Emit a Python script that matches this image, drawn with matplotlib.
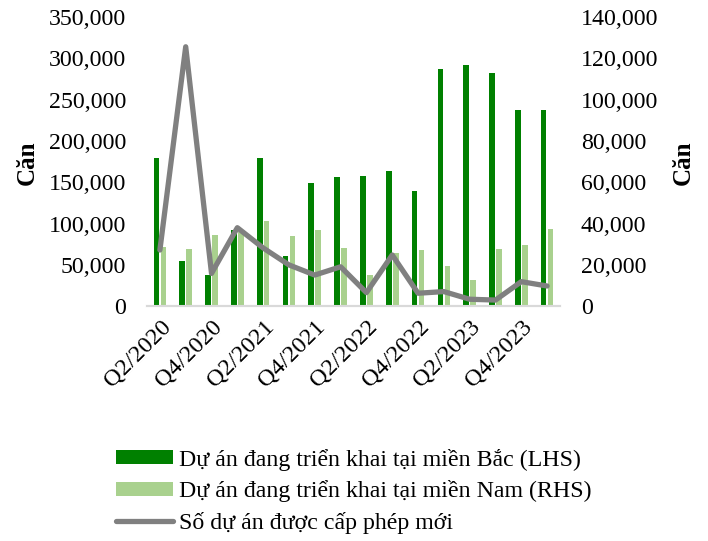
import matplotlib.pyplot as plt
import numpy as np

plt.rcParams["font.family"] = ["Liberation Serif", "DejaVu Serif"]

quarters = ["Q2/2020", "Q3/2020", "Q4/2020", "Q1/2021", "Q2/2021", "Q3/2021",
            "Q4/2021", "Q1/2022", "Q2/2022", "Q3/2022", "Q4/2022", "Q1/2023",
            "Q2/2023", "Q3/2023", "Q4/2023", "Q1/2024"]

# Dự án đang triển khai tại miền Bắc (LHS)
north = [180000, 55000, 38000, 92000, 180000, 61000, 149000, 157000,
         158000, 164000, 140000, 287000, 292000, 282000, 238000, 237000]
# Dự án đang triển khai tại miền Nam (RHS)
south = [29000, 28000, 34600, 36000, 41500, 34100, 37000, 28100,
         15200, 25700, 27300, 19700, 12700, 27800, 29600, 37300]
# Số dự án được cấp phép mới (RHS scale)
licensed = [27300, 125600, 16000, 38100, 28300, 20100, 15200, 19200,
            6700, 24900, 6400, 7200, 3500, 3100, 12000, 9900]

dark_green = "#008000"
light_green = "#a9d18e"
grey = "#808080"

fig = plt.figure(figsize=(7.08, 5.41), dpi=100)
ax2 = fig.add_axes([0.2076, 0.4335, 0.5834, 0.5351])
ax = ax2.twinx()
# left axis on the left side, right axis on the right
ax.yaxis.tick_left()
ax2.yaxis.tick_right()

x = np.arange(len(quarters))
w = 0.22
b2 = ax2.bar(x + 0.135, south, width=w, color=light_green, zorder=2)
b1 = ax.bar(x - 0.135, north, width=w, color=dark_green, zorder=2)
l1, = ax.plot(x, [v * 2.5 for v in licensed], color=grey, linewidth=3.8,
              solid_capstyle="round", solid_joinstyle="round", zorder=3)

ax.set_xlim(-0.5, len(quarters) - 0.5)
ax.set_ylim(0, 350000)
ax2.set_ylim(0, 140000)
ax.set_yticks(np.arange(0, 350001, 50000))
ax2.set_yticks(np.arange(0, 140001, 20000))
fmt = plt.FuncFormatter(lambda v, p: f"{int(v):,}")
ax.yaxis.set_major_formatter(fmt)
ax2.yaxis.set_major_formatter(fmt)

ax2.set_xticks(x[::2])
ax2.set_xticklabels(quarters[::2], rotation=45, ha="right", rotation_mode="anchor")

for a in (ax, ax2):
    for s in ("top", "left", "right"):
        a.spines[s].set_visible(False)
    a.spines["bottom"].set_color("#d9d9d9")
    a.spines["bottom"].set_linewidth(1.5)
    a.tick_params(length=0, labelsize=17.2, colors="black")
ax.tick_params(axis="y", pad=15)
ax2.tick_params(axis="y", pad=15)
ax2.tick_params(axis="x", pad=7, labelsize=17.5)

fig.text(0.038, 0.70, "Căn", rotation=90, fontsize=18, fontweight="bold",
         ha="center", va="center")
fig.text(0.965, 0.70, "Căn", rotation=90, fontsize=18, fontweight="bold",
         ha="center", va="center")

fig.legend([b1, b2, l1],
           ["Dự án đang triển khai tại miền Bắc (LHS)",
            "Dự án đang triển khai tại miền Nam (RHS)",
            "Số dự án được cấp phép mới"],
           loc="center", bbox_to_anchor=(0.5, 0.092), frameon=False,
           fontsize=17.2, handlelength=2.4, handleheight=0.55,
           handletextpad=0.25, labelspacing=0.4)

fig.savefig("out.png", dpi=100)
